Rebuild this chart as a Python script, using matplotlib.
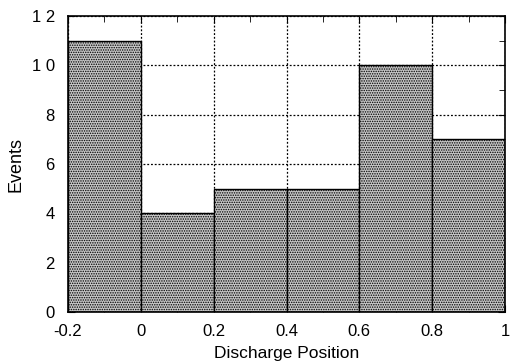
import numpy as np
import matplotlib
matplotlib.use("Agg")
from matplotlib import pyplot as plt
from matplotlib.ticker import MultipleLocator

plt.rcParams['font.family'] = ['Liberation Sans', 'DejaVu Sans']
plt.rcParams['hatch.linewidth'] = 0.7

# histogram bins and counts
bin_edges = [-0.2, 0.0, 0.2, 0.4, 0.6, 0.8, 1.0]
counts = [11, 4, 5, 5, 10, 7]
x_ticks = [-0.2, 0, 0.2, 0.4, 0.6, 0.8, 1.0]
x_labels = ['-0.2', '0', '0.2', '0.4', '0.6', '0.8', '1']
y_ticks = [0, 2, 4, 6, 8, 10, 12]
y_labels = ['0', '2', '4', '6', '8', '1 0', '1 2']

fig = plt.figure(figsize=(5.14, 3.62), dpi=100)
ax = fig.add_axes([68 / 514, 1 - 312 / 362, 437 / 514, 296 / 362])

widths = np.diff(bin_edges)
ax.bar(bin_edges[:-1], counts, width=widths, align='edge',
       facecolor='#c6c6c6', edgecolor='black', linewidth=1.0,
       hatch='.......', zorder=2)

ax.set_xlim(-0.2, 1.0)
ax.set_ylim(0, 12)
ax.set_xticks(x_ticks)
ax.set_xticklabels(x_labels)
ax.set_yticks(y_ticks)
ax.set_yticklabels(y_labels)
ax.xaxis.set_minor_locator(MultipleLocator(0.1))
ax.yaxis.set_minor_locator(MultipleLocator(1))
ax.tick_params(which='both', direction='in', top=True, right=True,
               labelsize=12)
ax.tick_params(axis='x', pad=9)
ax.tick_params(axis='y', pad=9.5)
ax.tick_params(which='major', length=5)
ax.tick_params(which='minor', length=4)
ax.grid(True, which='major', linestyle=(0, (1.5, 1.5)), color='black',
        linewidth=0.9, zorder=1)
ax.set_axisbelow(True)
for s in ax.spines.values():
    s.set_linewidth(1.2)

ax.set_xlabel('Discharge Position', fontsize=12.5, labelpad=5)
ax.set_ylabel('Events', fontsize=13, labelpad=5)

plt.savefig('out.png', dpi=100)
